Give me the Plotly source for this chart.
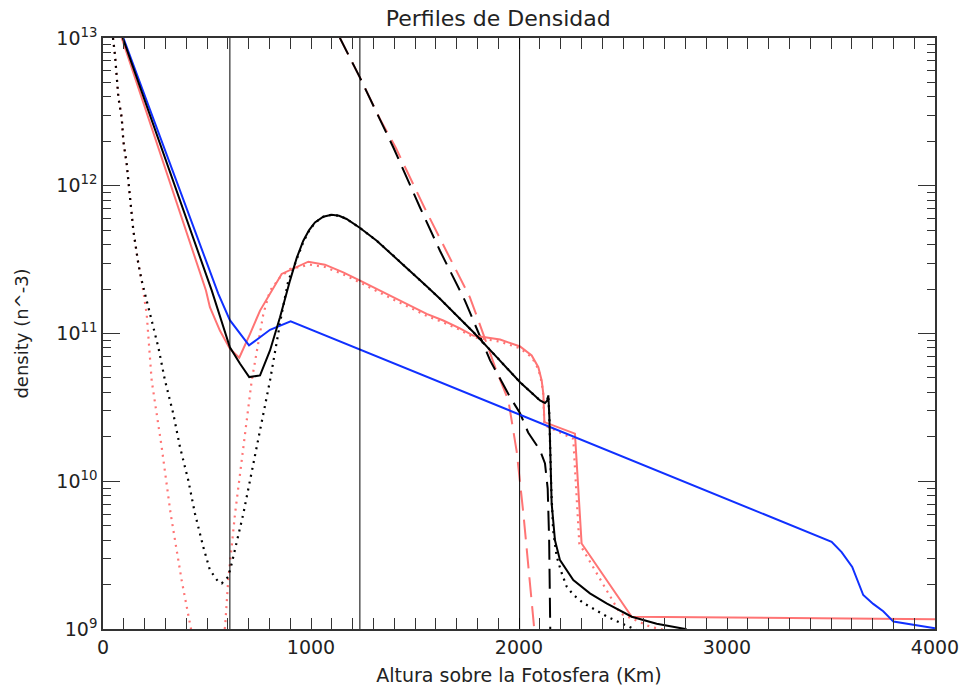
import numpy as np
import plotly.graph_objects as go

# ---- data (log10 of density vs height in km) ----
blue_x = [98, 554, 610, 702, 755, 803, 902, 3503, 3551, 3602, 3655, 3703, 3751, 3800, 4000]
blue_log = [13.0, 11.27, 11.09, 10.92, 10.975, 11.025, 11.083, 9.59, 9.52, 9.42, 9.23, 9.17, 9.12, 9.05, 9.005]

black_x = [95, 523, 610, 659, 703, 755, 803, 851, 899, 931, 963, 991, 1019, 1059, 1099, 1135, 1171,
           1236, 1316, 1396, 1476, 1556, 1620, 1716, 1780, 1893, 2005, 2101, 2125, 2136, 2141, 2146,
           2152, 2157, 2173, 2197, 2261, 2341, 2421, 2542, 2662, 2806]
black_log = [13.0, 11.29, 10.907, 10.795, 10.705, 10.716, 10.885, 11.110, 11.358, 11.51, 11.628,
             11.70, 11.752, 11.79, 11.804, 11.797, 11.775, 11.714, 11.628, 11.527, 11.425, 11.32,
             11.235, 11.10, 11.01, 10.84, 10.67, 10.547, 10.529, 10.547, 10.581, 10.434, 10.10,
             9.85, 9.60, 9.466, 9.331, 9.241, 9.174, 9.083, 9.036, 8.998]

black_dot_x = [48, 58, 74, 90, 98, 114, 130, 146, 170, 186, 226, 266, 298, 338, 370, 410, 442, 482,
               514, 554, 571, 602, 619, 675, 739, 803, 859, 891, 931, 963, 991, 1019, 1059, 1099,
               1135, 1171, 1236, 1316, 1396, 1476, 1556, 1620, 1716, 1780, 1893, 2005, 2101, 2125,
               2136, 2141, 2146, 2155, 2164, 2181, 2205, 2229, 2261, 2309, 2365, 2421, 2469, 2525,
               2600]
black_dot_log = [13.0, 12.88, 12.597, 12.46, 12.30, 12.147, 11.92, 11.696, 11.471, 11.358, 11.133,
                 10.907, 10.682, 10.457, 10.232, 10.007, 9.782, 9.556, 9.399, 9.320, 9.309, 9.353,
                 9.444, 9.782, 10.232, 10.682, 11.133, 11.358, 11.50, 11.62, 11.695, 11.75, 11.79,
                 11.804, 11.797, 11.775, 11.714, 11.628, 11.527, 11.425, 11.32, 11.235, 11.10,
                 11.01, 10.84, 10.67, 10.547, 10.529, 10.547, 10.581, 10.434, 9.95, 9.671, 9.491,
                 9.379, 9.288, 9.232, 9.176, 9.131, 9.086, 9.054, 9.020, 8.97]

black_dash_x = [1100, 1139, 1236, 1332, 1396, 1524, 1620, 1740, 1861, 1957, 2005, 2044, 2101, 2125,
                2138, 2145, 2149, 2152]
black_dash_log = [13.2, 13.0, 12.73, 12.45, 12.259, 11.853, 11.56, 11.223, 10.818, 10.57, 10.46,
                  10.33, 10.21, 10.12, 9.95, 9.6, 9.1, 8.8]

red_x = [90, 495, 514, 562, 610, 655, 707, 755, 859, 987, 1067, 1155, 1236, 1396, 1556, 1636, 1716,
         1780, 1909, 2005, 2061, 2093, 2109, 2117, 2122, 2269, 2301, 2542, 4000]
red_log = [13.0, 11.291, 11.178, 11.02, 10.897, 10.836, 10.998, 11.155, 11.403, 11.486, 11.466,
           11.414, 11.358, 11.245, 11.133, 11.088, 11.035, 10.986, 10.959, 10.912, 10.851, 10.772,
           10.682, 10.592, 10.40, 10.322, 9.579, 9.083, 9.066]

red_dot_x = [48, 58, 74, 90, 98, 114, 130, 146, 170, 186, 210, 234, 282, 325, 378, 422, 505, 587,
             602, 635, 675, 715, 771, 803, 851, 899, 995, 1067, 1155, 1236, 1396, 1556, 1636, 1716,
             1780, 1909, 2005, 2061, 2093, 2109, 2117, 2122, 2261, 2290, 2486, 2630, 2710]
red_dot_log = [13.0, 12.88, 12.597, 12.46, 12.30, 12.147, 11.92, 11.696, 11.471, 11.358, 11.133,
               10.682, 10.232, 9.782, 9.331, 9.016, 8.4, 9.016, 9.331, 9.782, 10.232, 10.682,
               11.133, 11.29, 11.38, 11.437, 11.466, 11.45, 11.40, 11.345, 11.23, 11.12, 11.075,
               11.025, 10.975, 10.945, 10.90, 10.84, 10.76, 10.67, 10.58, 10.38, 10.287, 9.579,
               9.106, 9.016, 8.99]

red_dash_x = [1100, 1139, 1236, 1332, 1407, 1545, 1650, 1764, 1828, 1885, 1949, 1989, 2021, 2053,
              2069, 2080]
red_dash_log = [13.2, 13.0, 12.73, 12.45, 12.259, 11.853, 11.56, 11.245, 10.998, 10.772, 10.547,
                10.20, 9.782, 9.331, 9.061, 8.9]

vlines_x = [610, 1235, 2003]

y_decades = [1e9, 1e10, 1e11, 1e12, 1e13]
y_labels = ["10<sup>9</sup>", "10<sup>10</sup>", "10<sup>11</sup>", "10<sup>12</sup>", "10<sup>13</sup>"]
y_minor_mult = [2, 3, 4, 5, 6, 7, 8, 9]

BLUE = "#1030ff"
RED = "#ff7474"
BLACK = "#000000"
AX = "#333333"
TXT = "#222222"

def pw(v):
    return np.power(10.0, np.array(v))

fig = go.Figure()
series = [
    (red_dot_x, red_dot_log, RED, dict(dash="2px,5px", width=2.2)),
    (black_dot_x, black_dot_log, BLACK, dict(dash="2px,5px", width=2.2)),
    (red_dash_x, red_dash_log, RED, dict(dash="20px,9px", width=2)),
    (black_dash_x, black_dash_log, BLACK, dict(dash="20px,9px", width=2)),
    (red_x, red_log, RED, dict(width=2)),
    (blue_x, blue_log, BLUE, dict(width=2)),
    (black_x, black_log, BLACK, dict(width=2)),
]
for xs, ls, col, ln in series:
    fig.add_trace(go.Scatter(x=xs, y=pw(ls), mode="lines",
                             line=dict(color=col, **ln), showlegend=False,
                             hoverinfo="skip"))

for xv in vlines_x:
    fig.add_vline(x=xv, line=dict(color="black", width=1))

minor_vals = [d * m for d in y_decades[:-1] for m in y_minor_mult]

font_family = "DejaVu Sans, Liberation Sans, sans-serif"
fig.update_layout(
    width=962, height=691,
    margin=dict(l=103, r=27, t=38, b=62, autoexpand=False),
    paper_bgcolor="white", plot_bgcolor="white",
    title=dict(text="Perfiles de Densidad", xref="paper", x=0.475, xanchor="center",
               yref="container", y=0.973, yanchor="middle",
               font=dict(family=font_family, size=22, color=TXT)),
    font=dict(family=font_family, size=18, color=TXT),
    showlegend=False,
    xaxis=dict(
        range=[0, 4000], dtick=1000, tick0=0, automargin=False,
        showline=True, linecolor=AX, linewidth=1.5, mirror="allticks",
        ticks="inside", ticklen=11, tickwidth=1.2, tickcolor=AX,
        minor=dict(ticks="inside", dtick=100, tick0=0, ticklen=5, tickcolor=AX, tickwidth=1),
        showgrid=False, zeroline=False,
        tickfont=dict(family=font_family, size=19, color=TXT),
        title=dict(text="Altura sobre la Fotosfera (Km)",
                   font=dict(family=font_family, size=19, color=TXT), standoff=12),
    ),
    yaxis=dict(
        type="log", range=[9, 13], automargin=False,
        tickmode="array", tickvals=y_decades, ticktext=y_labels,
        showline=True, linecolor=AX, linewidth=1.5, mirror="allticks",
        ticks="inside", ticklen=17, tickwidth=1.2, tickcolor=AX,
        showgrid=False, zeroline=False,
        tickfont=dict(family=font_family, size=19, color=TXT),
        title=dict(text="density (n^-3)", font=dict(family=font_family, size=18, color=TXT),
                   standoff=23),
    ),
    yaxis2=dict(
        type="log", range=[9, 13], overlaying="y", side="left", automargin=False,
        tickmode="array", tickvals=minor_vals, ticktext=[""] * len(minor_vals),
        showline=False, mirror="allticks", showticklabels=False,
        ticks="inside", ticklen=8, tickwidth=1, tickcolor=AX,
        showgrid=False, zeroline=False,
    ),
)
# invisible helper trace so the overlaid minor-tick axis is drawn
fig.add_trace(go.Scatter(x=[0], y=[1e9], yaxis="y2", mode="markers",
                         marker=dict(opacity=0), showlegend=False, hoverinfo="skip"))

fig.write_html("out.html")
